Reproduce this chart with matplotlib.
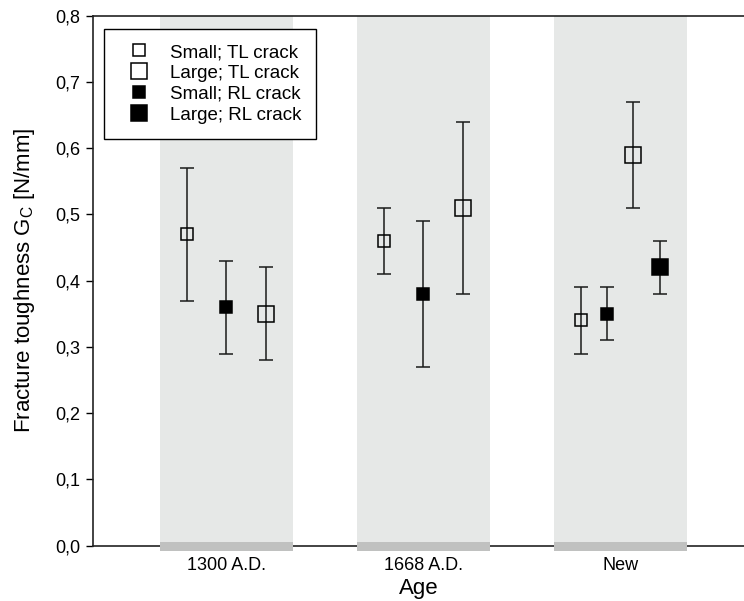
import matplotlib
matplotlib.use("Agg")
import matplotlib.pyplot as plt
import matplotlib.transforms as mtransforms
from matplotlib.patches import Rectangle

plt.rcParams['font.family'] = ['Liberation Sans', 'DejaVu Sans']
plt.rcParams['mathtext.fontset'] = 'custom'
plt.rcParams['mathtext.rm'] = 'Liberation Sans'
plt.rcParams['mathtext.it'] = 'Liberation Sans:italic'

categories = ["1300 A.D.", "1668 A.D.", "New"]

# series: values, lower, upper per category (None = absent)
small_tl = [0.47, 0.46, 0.34]
small_tl_lo = [0.37, 0.41, 0.29]
small_tl_hi = [0.57, 0.51, 0.39]

large_tl = [0.35, 0.51, 0.59]
large_tl_lo = [0.28, 0.38, 0.51]
large_tl_hi = [0.42, 0.64, 0.67]

small_rl = [0.36, 0.38, 0.35]
small_rl_lo = [0.29, 0.27, 0.31]
small_rl_hi = [0.43, 0.49, 0.39]

large_rl = [None, None, 0.42]
large_rl_lo = [None, None, 0.38]
large_rl_hi = [None, None, 0.46]

# x offsets within each group
off_small_tl = [-0.2, -0.2, -0.2]
off_small_rl = [0.0, 0.0, -0.066]
off_large_tl = [0.2, 0.2, 0.066]
off_large_rl = [None, None, 0.2]

fig = plt.figure(figsize=(7.44, 6.01), dpi=100)
ax = fig.add_axes([0.125, 0.092, 0.875, 0.882])

band_half = 0.3375
for i in range(len(categories)):
    ax.axvspan(i - band_half, i + band_half, color='#e6e8e7', lw=0, zorder=0)

trans = mtransforms.blended_transform_factory(ax.transData, ax.transData)
for i in range(len(categories)):
    r = Rectangle((i - band_half, -0.0078), 2 * band_half, 0.0135,
                  facecolor='#c0c1c0', edgecolor='none', transform=trans,
                  clip_on=False, zorder=5)
    ax.add_patch(r)

def draw(vals, lo, hi, offs, ms, filled, label):
    xs, ys, el, eh = [], [], [], []
    for i, v in enumerate(vals):
        if v is None:
            continue
        xs.append(i + offs[i]); ys.append(v)
        el.append(v - lo[i]); eh.append(hi[i] - v)
    ax.errorbar(xs, ys, yerr=[el, eh], fmt='none', ecolor='#1a1a1a',
                elinewidth=1.1, capsize=5, capthick=1.1, zorder=3)
    ax.plot(xs, ys, 's', ms=ms, mfc='black' if filled else 'none',
            mec='black', mew=1.1, zorder=4, label=label, linestyle='none')

draw(small_tl, small_tl_lo, small_tl_hi, off_small_tl, 8.5, False, "Small; TL crack")
draw(large_tl, large_tl_lo, large_tl_hi, off_large_tl, 11.5, False, "Large; TL crack")
draw(small_rl, small_rl_lo, small_rl_hi, off_small_rl, 9.0, True, "Small; RL crack")
draw(large_rl, large_rl_lo, large_rl_hi, off_large_rl, 12.0, True, "Large; RL crack")

ax.set_xlim(-0.675, 2.627)
ax.set_ylim(0, 0.8)
yt = [0.0, 0.1, 0.2, 0.3, 0.4, 0.5, 0.6, 0.7, 0.8]
ax.set_yticks(yt)
ax.set_yticklabels([f"{v:.1f}".replace('.', ',') for v in yt], fontsize=13)
ax.set_xticks(range(len(categories)))
ax.set_xticklabels(categories, fontsize=13)
ax.tick_params(axis='x', length=0, pad=8)
ax.tick_params(axis='y', length=5, width=1, direction='out', pad=4)

ax.spines['right'].set_visible(False)
for s in ['left', 'top', 'bottom']:
    ax.spines[s].set_linewidth(1.2)
    ax.spines[s].set_color('#222222')

ax.set_xlabel("Age", fontsize=16, labelpad=3)
ax.set_ylabel("Fracture toughness G$_\\mathrm{C}$ [N/mm]", fontsize=16, labelpad=13)

leg = ax.legend(loc='upper left', bbox_to_anchor=(0.017, 0.975), fontsize=13.5,
                frameon=True, fancybox=False, edgecolor='black', framealpha=1,
                labelspacing=0.2, handletextpad=0.6, borderpad=0.8,
                handlelength=2.1, borderaxespad=0)
leg.get_frame().set_linewidth(1.0)
leg.set_zorder(10)

fig.savefig("out.png", dpi=100)
